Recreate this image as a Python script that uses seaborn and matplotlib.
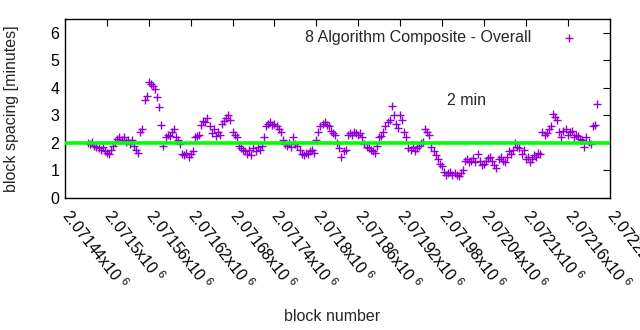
import numpy as np
import pandas as pd
import matplotlib
matplotlib.use("Agg")
import matplotlib.pyplot as plt
import matplotlib.transforms as mtransforms
import seaborn as sns

# ---- data ----
block_start = 2071473
block_step = 3
spacing_minutes = [
    2.0, 1.95, 2.05, 1.9, 1.85, 1.8, 1.75, 1.85, 1.7, 1.65,
    1.6, 1.75, 1.9, 2.05, 2.15, 2.2, 2.1, 2.2, 2.05, 2.1,
    1.95, 2.1, 1.9, 1.75, 1.65, 2.4, 2.5, 3.55, 3.7, 4.2,
    4.15, 4.05, 3.95, 3.65, 3.3, 2.65, 1.9, 2.2, 2.3, 2.25,
    2.4, 2.5, 2.2, 2.1, 1.95, 1.6, 1.55, 1.65, 1.5, 1.6,
    1.7, 2.2, 2.25, 2.3, 2.65, 2.8, 2.75, 2.9, 2.6, 2.35,
    2.5, 2.25, 2.4, 2.3, 2.7, 2.8, 2.9, 3.0, 2.85, 2.4,
    2.3, 2.2, 1.9, 1.8, 1.75, 1.7, 1.6, 1.75, 1.55, 1.8,
    1.7, 1.85, 1.75, 1.9, 2.2, 2.6, 2.7, 2.75, 2.65, 2.7,
    2.6, 2.5, 2.4, 2.1, 1.95, 1.9, 2.0, 1.85, 2.2, 1.95,
    1.9, 1.75, 1.6, 1.55, 1.65, 1.6, 1.7, 1.75, 1.65, 2.1,
    2.4, 2.6, 2.7, 2.75, 2.65, 2.6, 2.45, 2.35, 2.3, 2.0,
    1.8, 1.5, 1.7, 1.75, 2.3, 2.35, 2.3, 2.4, 2.35, 2.3,
    2.35, 2.2, 1.95, 1.85, 1.8, 1.75, 1.7, 1.65, 1.9, 2.2,
    2.25, 2.4, 2.6, 2.75, 2.85, 3.35, 3.0, 2.7, 2.55, 3.0,
    2.85, 2.4, 2.2, 1.8, 1.75, 1.85, 1.7, 1.8, 1.9, 2.0,
    2.05, 2.5, 2.4, 2.3, 1.85, 1.7, 1.55, 1.4, 1.25, 1.15,
    0.95, 0.85, 0.9, 0.95, 0.85, 0.9, 0.85, 0.8, 0.9, 1.0,
    1.35, 1.4, 1.3, 1.35, 1.45, 1.3, 1.6, 1.35, 1.2, 1.25,
    1.35, 1.45, 1.5, 1.35, 1.2, 1.1, 1.4, 1.5, 1.35, 1.3,
    1.5, 1.7, 1.6, 1.75, 2.0, 1.85, 1.8, 1.6, 1.75, 1.4,
    1.5, 1.3, 1.4, 1.55, 1.5, 1.65, 1.6, 2.4, 2.3, 2.35,
    2.5, 2.6, 3.05, 2.95, 2.85, 2.4, 2.2, 2.45, 2.5, 2.3,
    2.4, 2.45, 2.2, 2.3, 2.25, 2.15, 2.1, 1.85, 2.2, 2.05,
    1.95, 2.6, 2.65, 3.4,
]
target_minutes = 2
x_ticks = [2071440, 2071500, 2071560, 2071620, 2071680, 2071740, 2071800,
           2071860, 2071920, 2071980, 2072040, 2072100, 2072160, 2072220]
x_tick_labels = ["2.07144", "2.0715", "2.07156", "2.07162", "2.07168", "2.07174",
                 "2.0718", "2.07186", "2.07192", "2.07198", "2.07204", "2.0721",
                 "2.07216", "2.07222"]
y_ticks = [0, 1, 2, 3, 4, 5, 6]
series_label = "8 Algorithm Composite - Overall"
note_text = "2 min"

blocks = block_start + block_step * np.arange(len(spacing_minutes))
df = pd.DataFrame({"block": blocks, "spacing": spacing_minutes})

sns.set_style("white")
plt.rcParams["font.family"] = ["Liberation Sans", "DejaVu Sans"]
plt.rcParams["mathtext.fontset"] = "custom"
plt.rcParams["mathtext.rm"] = "Liberation Sans"

fig = plt.figure(figsize=(6.4, 3.3), dpi=100)
ax = fig.add_axes([65 / 640, 0.4, (609.5 - 65) / 640, (198 - 19) / 330])

sns.scatterplot(data=df, x="block", y="spacing", marker="+", color="#9400d3",
                s=34, linewidth=1.0, ax=ax, label=series_label, zorder=2)
ax.axhline(target_minutes, color="#00ff00", linewidth=2.6, zorder=3)

ax.set_xlim(x_ticks[0], x_ticks[-1])
ax.set_ylim(0, 6.5)

ax.tick_params(direction="in", length=5, width=0.8, top=True, right=True,
               colors="black", pad=4)
ax.tick_params(axis="x", pad=6)
for s in ax.spines.values():
    s.set_visible(True)
    s.set_color("black")
    s.set_linewidth(1.0)

ax.set_yticks(y_ticks)
ax.set_yticklabels([str(v) for v in y_ticks], fontsize=11.5)
ax.set_xticks(x_ticks)
ax.set_xticklabels([lab + r"x10$^{\ 6}$" for lab in x_tick_labels], fontsize=11.5,
                   rotation=-52, ha="left", va="top", rotation_mode="anchor")
offset = mtransforms.ScaledTranslation(8 / 100, 0, fig.dpi_scale_trans)
for lab in ax.get_xticklabels():
    lab.set_transform(lab.get_transform() + offset)

ax.set_xlabel("block number", fontsize=11.5)
ax.xaxis.set_label_coords(0.49, -0.62)
ax.set_ylabel("block spacing [minutes]", fontsize=11.5)
ax.yaxis.set_label_coords(-0.085, 0.5)

ax.text(2071987, 3.53, note_text, fontsize=11.5, ha="left", va="center")

leg = ax.legend(loc="upper right", frameon=False, markerfirst=False, fontsize=11.5,
                handlelength=1.5, handletextpad=1.6, borderaxespad=0.3,
                bbox_to_anchor=(0.968, 1.0))

fig.savefig("out.png", dpi=100)
